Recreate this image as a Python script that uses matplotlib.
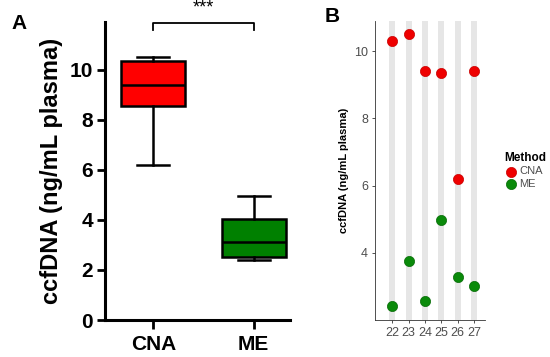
import numpy as np
import matplotlib
matplotlib.use('Agg')
import matplotlib.pyplot as plt

plt.rcParams['font.family'] = ['Liberation Sans', 'DejaVu Sans']

# Data
samples = ['22', '23', '24', '25', '26', '27']
cna = [10.3, 10.5, 9.4, 9.35, 6.2, 9.42]
me = [2.4, 3.75, 2.55, 4.97, 3.27, 3.0]
methods = ['CNA', 'ME']
box_colors = ['#ff0000', '#008000']
pt_colors = ['#ee0000', '#0a8a0a']

fig = plt.figure(figsize=(5.5, 3.57), dpi=100)

# ---- Panel A: box plot (min-max whiskers, GraphPad-style quartiles)
axA = fig.add_axes([0.191, 0.1036, 0.336, 0.834])
stats = []
for name, vals in zip(methods, [cna, me]):
    q1, med, q3 = np.percentile(vals, [25, 50, 75], method='weibull')
    stats.append({'label': name, 'med': med, 'q1': q1, 'q3': q3,
                  'whislo': min(vals), 'whishi': max(vals), 'fliers': []})
bp = axA.bxp(stats, positions=[1, 2], widths=0.64, patch_artist=True,
             showfliers=False,
             boxprops=dict(linewidth=1.8, edgecolor='black'),
             medianprops=dict(color='black', linewidth=1.8),
             whiskerprops=dict(color='black', linewidth=1.8),
             capprops=dict(color='black', linewidth=1.8))
for patch, c in zip(bp['boxes'], box_colors):
    patch.set_facecolor(c)
for cap in bp['caps']:
    x = cap.get_xdata()
    mid = x.mean()
    cap.set_xdata([mid - 0.16, mid + 0.16])

axA.set_xlim(0.52, 2.36)
axA.set_ylim(0, 11.9)
axA.set_yticks([0, 2, 4, 6, 8, 10])
axA.set_xticks([1, 2])
axA.set_xticklabels(methods)
for s in ['top', 'right']:
    axA.spines[s].set_visible(False)
for s in ['left', 'bottom']:
    axA.spines[s].set_linewidth(2.2)
axA.tick_params(axis='y', width=2, length=6, labelsize=15, pad=2.5)
axA.tick_params(axis='x', width=2, length=6.5, labelsize=15, pad=4)
for lab in axA.get_yticklabels() + axA.get_xticklabels():
    lab.set_fontweight('bold')
axA.set_ylabel('ccfDNA (ng/mL plasma)', fontsize=17, fontweight='bold', labelpad=5)

# significance bracket
ybr = 11.9 - 0.02
axA.plot([1, 1, 2, 2], [11.6, ybr, ybr, 11.6], color='black', lw=1.3, clip_on=False)
axA.text(1.5, 12.15, '***', ha='center', va='bottom', fontsize=13)

fig.text(0.02, 0.935, 'A', fontsize=15, fontweight='bold', va='center')

# ---- Panel B: paired dot plot
axB = fig.add_axes([0.682, 0.1036, 0.2, 0.838])
x = np.arange(len(samples))
for xi in x:
    axB.axvline(xi, color='#e6e6e6', lw=4.3, zorder=0)
axB.scatter(x, cna, s=54, color=pt_colors[0], zorder=3, label='CNA',
            edgecolors='#c80000', linewidths=0.5)
axB.scatter(x, me, s=54, color=pt_colors[1], zorder=3, label='ME',
            edgecolors='#066a06', linewidths=0.5)
axB.set_xlim(-1.04, 5.67)
axB.set_ylim(1.995, 10.905)
axB.set_xticks(x)
axB.set_xticklabels(samples)
axB.set_yticks([4, 6, 8, 10])
for s in ['top', 'right']:
    axB.spines[s].set_visible(False)
for s in ['left', 'bottom']:
    axB.spines[s].set_linewidth(0.6)
    axB.spines[s].set_color('#333333')
axB.tick_params(axis='both', width=0.6, length=2.5, labelsize=9,
                labelcolor='#4d4d4d', color='#333333', pad=2.5)
axB.set_ylabel('ccfDNA (ng/mL plasma)', fontsize=8, fontweight='bold', labelpad=4)

leg = axB.legend(title='Method', loc='center left', bbox_to_anchor=(1.12, 0.5),
                 frameon=False, fontsize=8, title_fontsize=8.5,
                 handletextpad=0.2, labelspacing=0.2, borderpad=0,
                 handlelength=1.2, alignment='left')
leg.get_title().set_fontweight('bold')
for t in leg.get_texts():
    t.set_color('#4d4d4d')

fig.text(0.59, 0.955, 'B', fontsize=15, fontweight='bold', va='center')

fig.savefig('out.png', dpi=100)
